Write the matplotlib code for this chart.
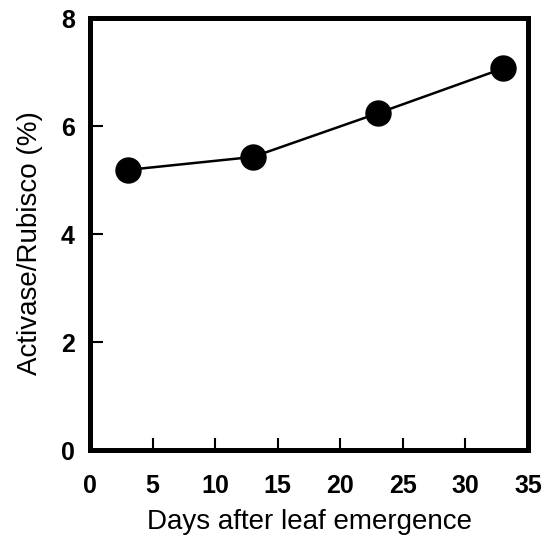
import matplotlib
matplotlib.use('Agg')
import matplotlib.pyplot as plt

plt.rcParams['font.family'] = ['Liberation Sans', 'DejaVu Sans']

# 数据
days = [3, 13, 23, 33]
ratio = [5.19, 5.43, 6.24, 7.07]
xticks = [0, 5, 10, 15, 20, 25, 30, 35]
yticks = [0, 2, 4, 6, 8]

fig = plt.figure(figsize=(5.46, 5.37), dpi=100)
ax = fig.add_axes([0.165, 0.162, 0.802, 0.804])

ax.plot(days, ratio, color='black', lw=1.8, marker='o', ms=18,
        markerfacecolor='black', markeredgecolor='black')

ax.set_xlim(0, 35)
ax.set_ylim(0, 8)
ax.set_xticks(xticks)
ax.set_yticks(yticks)
ax.tick_params(direction='in', length=9, width=1.5, labelsize=18)
ax.tick_params(axis='x', pad=17)
ax.tick_params(axis='y', pad=11)
for lab in ax.get_xticklabels() + ax.get_yticklabels():
    lab.set_fontweight('bold')
for s in ax.spines.values():
    s.set_linewidth(3.6)

ax.set_xlabel('Days after leaf emergence', fontsize=20, labelpad=8)
ax.set_ylabel('Activase/Rubisco (%)', fontsize=20)
ax.yaxis.set_label_coords(-0.108, 0.48)

fig.savefig('out.png', dpi=100)
